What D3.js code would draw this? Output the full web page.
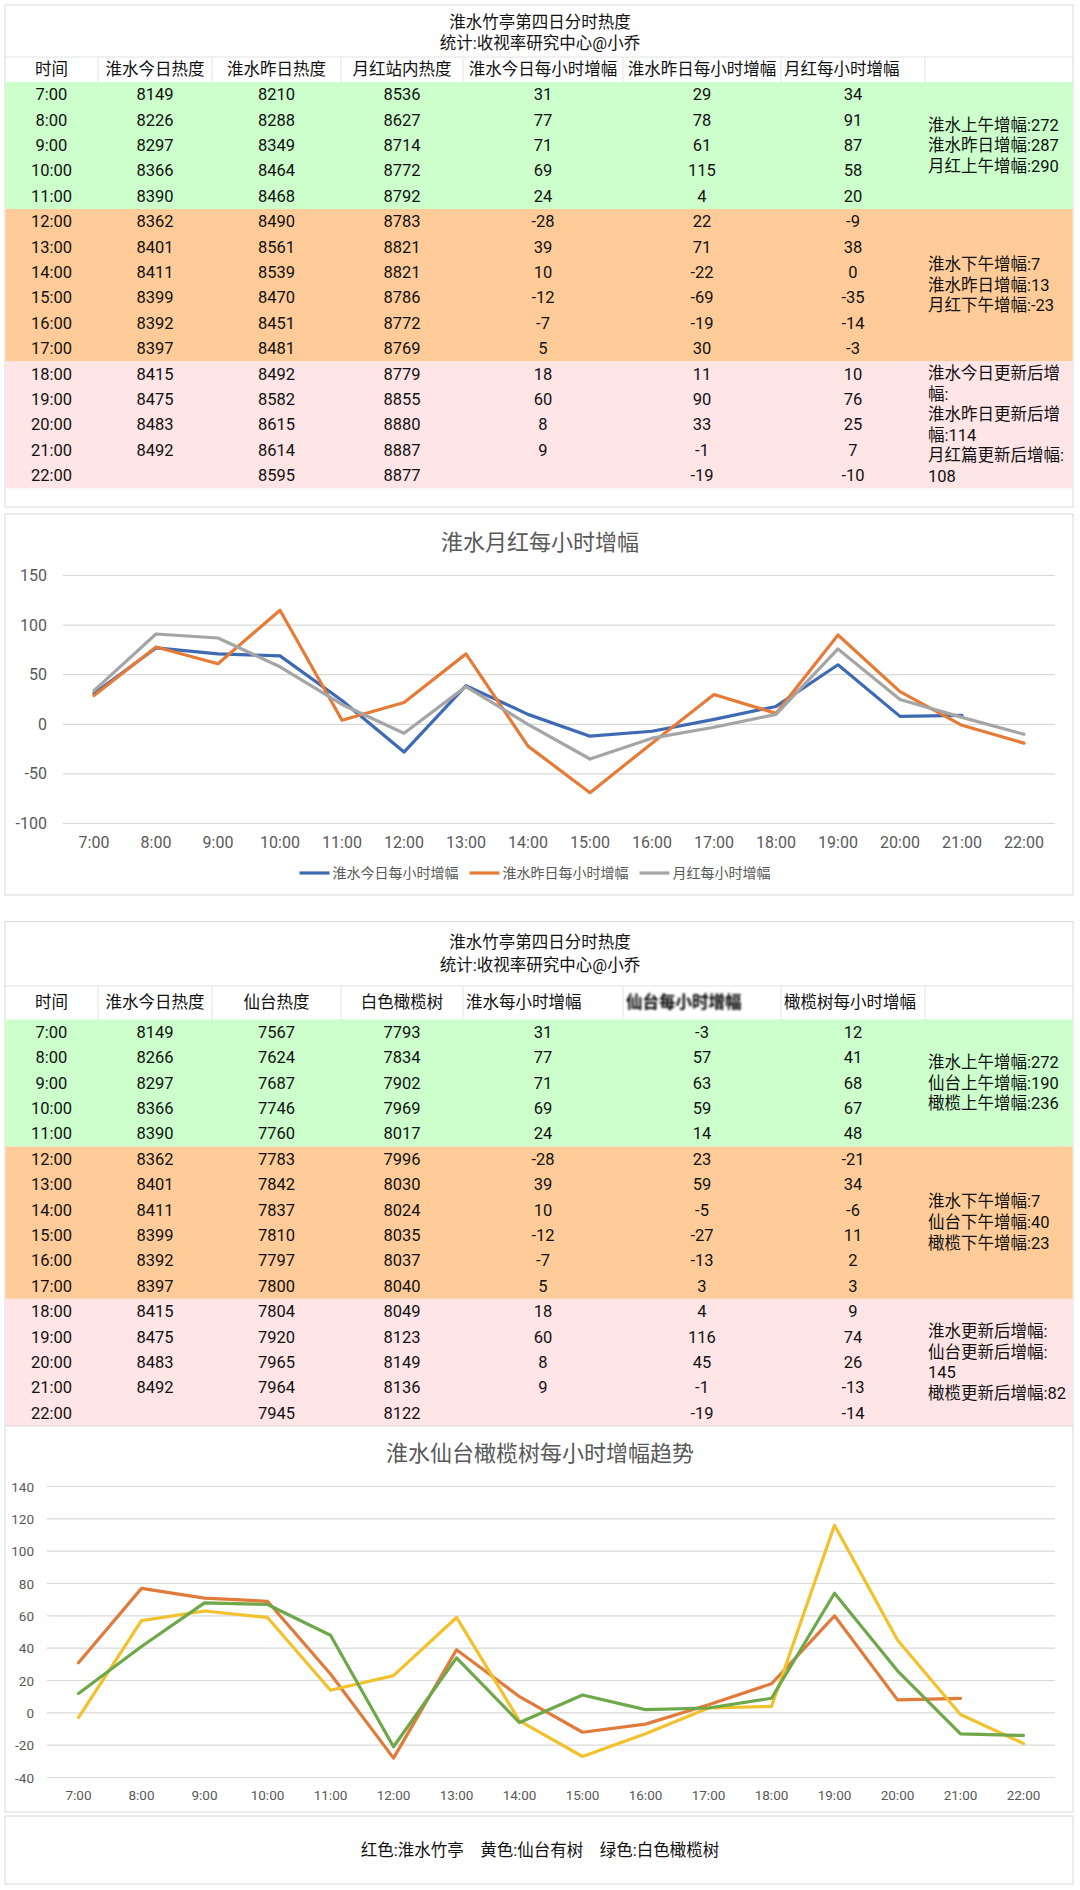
<!DOCTYPE html>
<html><head><meta charset="utf-8">
<script src="https://cdn.jsdelivr.net/npm/d3@7"></script>
<style>html,body{margin:0;padding:0;background:#fff;}svg{display:block;}</style>
</head><body>
<script>
// ---------------- DATA ----------------
const times = ["7:00","8:00","9:00","10:00","11:00","12:00","13:00","14:00","15:00","16:00","17:00","18:00","19:00","20:00","21:00","22:00"];

const t1Titles = ["淮水竹亭第四日分时热度","统计:收视率研究中心@小乔"];
const t1Headers = ["时间","淮水今日热度","淮水昨日热度","月红站内热度","淮水今日每小时增幅","淮水昨日每小时增幅","月红每小时增幅"];
const huaiHeatToday = [8149,8226,8297,8366,8390,8362,8401,8411,8399,8392,8397,8415,8475,8483,8492,null];
const huaiHeatYest  = [8210,8288,8349,8464,8468,8490,8561,8539,8470,8451,8481,8492,8582,8615,8614,8595];
const yuehongHeat   = [8536,8627,8714,8772,8792,8783,8821,8821,8786,8772,8769,8779,8855,8880,8887,8877];
const huaiIncToday  = [31,77,71,69,24,-28,39,10,-12,-7,5,18,60,8,9,null];
const huaiIncYest   = [29,78,61,115,4,22,71,-22,-69,-19,30,11,90,33,-1,-19];
const yuehongInc    = [34,91,87,58,20,-9,38,0,-35,-14,-3,10,76,25,7,-10];
const t1Notes = [
  ["淮水上午增幅:272","淮水昨日增幅:287","月红上午增幅:290"],
  ["淮水下午增幅:7","淮水昨日增幅:13","月红下午增幅:-23"],
  ["淮水今日更新后增","幅:","淮水昨日更新后增","幅:114","月红篇更新后增幅:","108"]
];

const t2Titles = ["淮水竹亭第四日分时热度","统计:收视率研究中心@小乔"];
const t2Headers = ["时间","淮水今日热度","仙台热度","白色橄榄树","淮水每小时增幅","仙台每小时增幅","橄榄树每小时增幅"];
const huaiHeat2   = [8149,8266,8297,8366,8390,8362,8401,8411,8399,8392,8397,8415,8475,8483,8492,null];
const xiantaiHeat = [7567,7624,7687,7746,7760,7783,7842,7837,7810,7797,7800,7804,7920,7965,7964,7945];
const oliveHeat   = [7793,7834,7902,7969,8017,7996,8030,8024,8035,8037,8040,8049,8123,8149,8136,8122];
const huaiInc2    = [31,77,71,69,24,-28,39,10,-12,-7,5,18,60,8,9,null];
const xiantaiInc  = [-3,57,63,59,14,23,59,-5,-27,-13,3,4,116,45,-1,-19];
const oliveInc    = [12,41,68,67,48,-21,34,-6,11,2,3,9,74,26,-13,-14];
const t2Notes = [
  ["淮水上午增幅:272","仙台上午增幅:190","橄榄上午增幅:236"],
  ["淮水下午增幅:7","仙台下午增幅:40","橄榄下午增幅:23"],
  ["淮水更新后增幅:","仙台更新后增幅:","145","橄榄更新后增幅:82"]
];

const chart1Title = "淮水月红每小时增幅";
const chart1Series = ["淮水今日每小时增幅","淮水昨日每小时增幅","月红每小时增幅"];
const chart1Ticks = [-100,-50,0,50,100,150];
const chart2Title = "淮水仙台橄榄树每小时增幅趋势";
const chart2Series = ["淮水竹亭","仙台有树","白色橄榄树"];
const chart2Ticks = [-40,-20,0,20,40,60,80,100,120,140];
const footerText = "红色:淮水竹亭\u3000黄色:仙台有树\u3000绿色:白色橄榄树";

// ---------------- LAYOUT ----------------
const W = 1080, H = 1890;
const FONT = "Roboto, 'Noto Sans CJK SC', 'Noto Sans', sans-serif";
const colEdges = [5, 98, 212, 341, 463, 623, 781, 925, 1073];
const bandColors = ["#CCFFCC", "#FFCC99", "#FFE5E6"];
const bandRanges = [[0,4],[5,10],[11,15]];

const svg = d3.select("body").append("svg").attr("width", W).attr("height", H)
  .style("font-family", FONT);
const defs = svg.append("defs");
defs.append("filter").attr("id","blur").attr("x","-10%").attr("y","-30%").attr("width","120%").attr("height","160%")
  .append("feGaussianBlur").attr("stdDeviation", 1.3);

function drawTable(cfg) {
  const g = svg.append("g");
  g.append("rect").attr("x", 5).attr("y", cfg.top).attr("width", 1068).attr("height", cfg.bottom - cfg.top)
    .attr("fill", "#fff").attr("stroke", "#d9d9d9");
  cfg.titles.forEach((t, i) => {
    g.append("text").attr("x", 540).attr("y", cfg.titleY[i]).attr("text-anchor", "middle")
      .attr("dominant-baseline", "central").attr("font-size", 16.5).attr("fill", "#111").text(t);
  });
  const y = d3.scaleBand().domain(times).range([cfg.rowTop, cfg.rowTop + cfg.rowH * times.length]);
  bandRanges.forEach((r, k) => {
    const y0 = y(times[r[0]]), y1 = y(times[r[1]]) + y.bandwidth();
    g.append("rect").attr("x", 5.5).attr("y", y0).attr("width", 1067).attr("height", y1 - y0).attr("fill", bandColors[k]);
    const lines = cfg.notes[k];
    const cy = (y0 + y1) / 2;
    lines.forEach((ln, i) => {
      g.append("text").attr("x", 928).attr("y", cy + (i - (lines.length - 1) / 2) * cfg.noteLH)
        .attr("dominant-baseline", "central").attr("font-size", 16.5).attr("fill", "#111").text(ln);
    });
  });
  g.append("line").attr("x1", 5).attr("x2", 1073).attr("y1", cfg.headTop).attr("y2", cfg.headTop).attr("stroke", "#e3e3e3");
  colEdges.slice(1, -1).forEach(x => {
    g.append("line").attr("x1", x).attr("x2", x).attr("y1", cfg.headTop).attr("y2", cfg.rowTop).attr("stroke", "#e3e3e3");
  });
  const hy = (cfg.headTop + cfg.rowTop) / 2;
  cfg.headers.forEach((h, j) => {
    const start = cfg.headAlign[j] === "s";
    const t = g.append("text")
      .attr("x", start ? colEdges[j] + 3 : (colEdges[j] + colEdges[j + 1]) / 2)
      .attr("y", hy).attr("text-anchor", start ? "start" : "middle")
      .attr("dominant-baseline", "central").attr("font-size", 16.5).attr("fill", "#111").text(h);
    if (cfg.blurHeader === j) t.attr("filter", "url(#blur)").attr("fill", "#000").attr("font-weight", "bold");
  });
  cfg.columns.forEach((col, j) => {
    col.forEach((v, i) => {
      if (v === null || v === undefined) return;
      g.append("text").attr("x", (colEdges[j] + colEdges[j + 1]) / 2).attr("y", y(times[i]) + y.bandwidth() / 2)
        .attr("text-anchor", "middle").attr("dominant-baseline", "central")
        .attr("font-size", 16.5).attr("fill", "#111").text(v);
    });
  });
}

drawTable({
  top: 5, bottom: 507, titles: t1Titles, titleY: [22, 43], headTop: 57, rowTop: 82, rowH: 25.4,
  headers: t1Headers, headAlign: ["m","m","m","m","m","m","s"],
  columns: [times, huaiHeatToday, huaiHeatYest, yuehongHeat, huaiIncToday, huaiIncYest, yuehongInc],
  notes: t1Notes, noteLH: 20.5
});
drawTable({
  top: 921.5, bottom: 1425.5, titles: t2Titles, titleY: [942, 965], headTop: 986, rowTop: 1019.5, rowH: 25.4,
  headers: t2Headers, headAlign: ["m","m","m","m","s","s","s"], blurHeader: 5,
  columns: [times, huaiHeat2, xiantaiHeat, oliveHeat, huaiInc2, xiantaiInc, oliveInc],
  notes: t2Notes, noteLH: 20.8
});

function drawChart(cfg) {
  const g = svg.append("g");
  g.append("rect").attr("x", 5).attr("y", cfg.top).attr("width", 1068).attr("height", cfg.bottom - cfg.top)
    .attr("fill", "#fff").attr("stroke", "#d9d9d9");
  g.append("text").attr("x", 540).attr("y", cfg.titleY).attr("text-anchor", "middle").attr("dominant-baseline", "central")
    .attr("font-size", 22).attr("fill", "#595959").text(cfg.title);
  const x = d3.scalePoint().domain(times).range([cfg.x0, cfg.x1]).padding(0.5);
  const y = d3.scaleLinear().domain(cfg.domain).range(cfg.yRange);
  g.append("g").selectAll("line").data(cfg.ticks).join("line")
    .attr("x1", cfg.x0).attr("x2", cfg.x1).attr("y1", d => y(d)).attr("y2", d => y(d))
    .attr("stroke", "#d9d9d9").attr("stroke-width", 1.2);
  g.append("g").selectAll("text").data(cfg.ticks).join("text")
    .attr("x", cfg.yLabelX).attr("y", d => y(d)).attr("text-anchor", "end").attr("dominant-baseline", "central")
    .attr("font-size", cfg.tickFont).attr("fill", "#595959").text(d => d);
  g.append("g").selectAll("text").data(times).join("text")
    .attr("x", d => x(d)).attr("y", cfg.xLabelY).attr("text-anchor", "middle").attr("dominant-baseline", "central")
    .attr("font-size", cfg.tickFont).attr("fill", "#595959").text(d => d);
  const line = d3.line().defined(d => d.v !== null).x(d => x(d.t)).y(d => y(d.v));
  cfg.series.forEach((s, k) => {
    g.append("path").datum(s.map((v, i) => ({ t: times[i], v })))
      .attr("d", line).attr("fill", "none").attr("stroke", cfg.colors[k]).attr("stroke-width", 3.2)
      .attr("stroke-linejoin", "round").attr("stroke-linecap", "round");
  });
  return g;
}

const c1Colors = ["#3E6AB3", "#E57B36", "#A5A5A5"];
const c1 = drawChart({
  top: 514, bottom: 895, title: chart1Title, titleY: 542, x0: 63, x1: 1055,
  domain: [-100, 150], yRange: [823.5, 575.5], ticks: chart1Ticks, yLabelX: 47, xLabelY: 842, tickFont: 16,
  series: [huaiIncToday, huaiIncYest, yuehongInc], colors: c1Colors
});
{
  const lg = c1.append("g");
  let cx = 0;
  chart1Series.forEach((name, k) => {
    const it = lg.append("g").attr("transform", `translate(${cx},0)`);
    it.append("line").attr("x1", 0).attr("x2", 30).attr("y1", 0).attr("y2", 0).attr("stroke", c1Colors[k]).attr("stroke-width", 3.2);
    const t = it.append("text").attr("x", 33).attr("y", 0).attr("dominant-baseline", "central")
      .attr("font-size", 14).attr("fill", "#595959").text(name);
    cx += 33 + t.node().getComputedTextLength() + 11;
  });
  const total = cx - 11;
  lg.attr("transform", `translate(${535 - total / 2},873)`);
}

drawChart({
  top: 1426, bottom: 1812, title: chart2Title, titleY: 1453, x0: 47, x1: 1055,
  domain: [-40, 140], yRange: [1777.5, 1486.5], ticks: chart2Ticks, yLabelX: 34, xLabelY: 1795, tickFont: 13.5,
  series: [huaiInc2, xiantaiInc, oliveInc], colors: ["#E07B3C", "#F2C12E", "#6EA84A"]
});

svg.append("rect").attr("x", 5).attr("y", 1816).attr("width", 1068).attr("height", 68)
  .attr("fill", "#fff").attr("stroke", "#d9d9d9");
svg.append("text").attr("x", 540).attr("y", 1850).attr("text-anchor", "middle").attr("dominant-baseline", "central")
  .attr("font-size", 16.5).attr("fill", "#111").text(footerText);
</script>
</body></html>
